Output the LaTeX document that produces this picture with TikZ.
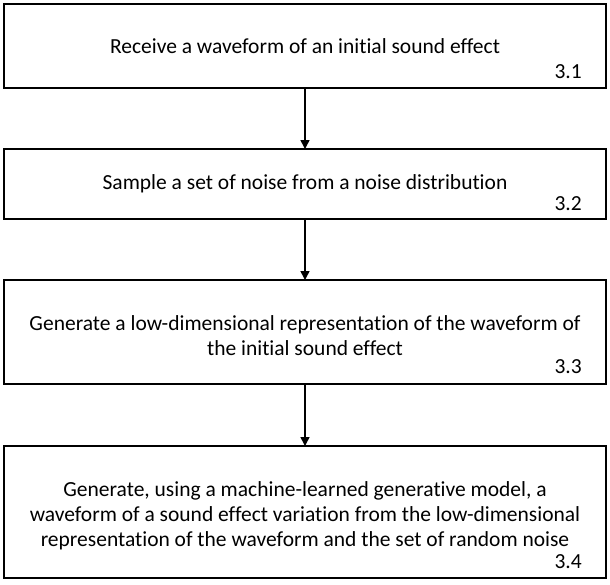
\documentclass[tikz,border=0pt]{standalone}
\usepackage{fontspec}
\setmainfont{Carlito}[Ligatures={NoCommon,NoRare}]
\usetikzlibrary{arrows.meta}
\begin{document}
\begin{tikzpicture}[x=1pt,y=-1pt,
  stepbox/.style={draw=black,line width=1.8pt,fill=white},
  txt/.style={font=\fontsize{21.5}{25}\selectfont,align=center,inner sep=0pt},
  num/.style={font=\fontsize{21.5}{25}\selectfont,anchor=east,inner sep=0pt},
  conn/.style={line width=1.6pt,-{Triangle[width=9pt,length=9pt]}}]
\useasboundingbox (0,0) rectangle (610,584);
\draw[stepbox] (4,4) rectangle (606,88);
\coordinate (b1t) at (305,4); \coordinate (b1b) at (305,88);
\node[txt] (t1) at (305,46) {Receive a waveform of an initial sound effect};
\node[num] (n1) at (582,72) {3.1};
\draw[stepbox] (4,149) rectangle (606,219);
\coordinate (b2t) at (305,149); \coordinate (b2b) at (305,219);
\node[txt] (t2) at (305,184) {Sample a set of noise from a noise distribution};
\node[num] (n2) at (582,204) {3.2};
\draw[stepbox] (4,280) rectangle (606,384);
\coordinate (b3t) at (305,280); \coordinate (b3b) at (305,384);
\node[txt] (t3) at (305,336) {Generate a low-dimensional representation of the waveform of\\the initial sound effect};
\node[num] (n3) at (582,367) {3.3};
\draw[stepbox] (4,446) rectangle (606,578);
\coordinate (b4t) at (305,446);
\node[txt] (t4) at (305,516) {Generate, using a machine-learned generative model, a\\waveform of a sound effect variation from the low-dimensional\\representation of the waveform and the set of random noise};
\node[num] (n4) at (582,562) {3.4};
\draw[conn] (b1b) -- (b2t);
\draw[conn] (b2b) -- (b3t);
\draw[conn] (b3b) -- (b4t);
\end{tikzpicture}
\end{document}
